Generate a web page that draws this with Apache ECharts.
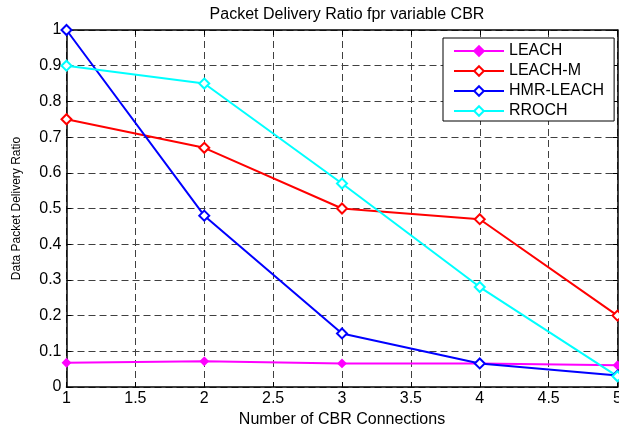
<!DOCTYPE html>
<html><head><meta charset="utf-8">
<script src="https://cdn.jsdelivr.net/npm/echarts@6/dist/echarts.min.js"></script>
<style>html,body{margin:0;padding:0;background:#fff}#c{width:619px;height:427px}</style>
</head><body><div id="c"></div>
<script>
const xValues = [1, 2, 3, 4, 5];
const leach = [0.068, 0.072, 0.066, 0.066, 0.061];
const leachM = [0.75, 0.67, 0.50, 0.47, 0.20];
const hmrLeach = [1.0, 0.48, 0.15, 0.066, 0.032];
const rroch = [0.90, 0.85, 0.57, 0.28, 0.03];
const seriesNames = ['LEACH', 'LEACH-M', 'HMR-LEACH', 'RROCH'];
const titleText = 'Packet Delivery Ratio fpr variable CBR';
const xName = 'Number of CBR Connections';
const yName = 'Data Packet Delivery Ratio';

const FONT = 'Liberation Sans, Arial, sans-serif';
const pair = arr => xValues.map((x, i) => [x, arr[i]]);
const gridLine = {show: true, lineStyle: {color: '#404040', type: [7, 4], width: 1}};
const mk = (name, data, color, symbol, size) => ({
  name, type: 'line', data: pair(data), symbol, symbolSize: size,
  showSymbol: true, clip: false,
  lineStyle: {color, width: 2}, itemStyle: {color, borderColor: color, borderWidth: 2},
  emphasis: {disabled: true}
});
const chart = echarts.init(document.getElementById('c'));
chart.setOption({
  animation: false,
  backgroundColor: '#fff',
  title: {text: titleText, left: 342, textAlign: 'center', top: 2,
    textStyle: {fontFamily: FONT, fontSize: 16, fontWeight: 'normal', color: '#000'}},
  grid: {left: 66.5, right: 1.5, top: 30, bottom: 40, outerBoundsMode: 'none', containLabel: false},
  legend: {
    orient: 'vertical', left: 443, top: 38,
    borderColor: '#000', borderWidth: 1, backgroundColor: '#fff',
    padding: [5, 10, 2, 10], itemGap: 4, itemWidth: 50, itemHeight: 12,
    textStyle: {fontFamily: FONT, fontSize: 16, color: '#000', lineHeight: 16},
    data: seriesNames
  },
  xAxis: [{
    type: 'value', min: 1, max: 5, interval: 0.5, position: 'bottom',
    name: xName, nameLocation: 'middle', nameGap: 20,
    nameTextStyle: {fontFamily: FONT, fontSize: 16, color: '#000'},
    axisLine: {show: true, onZero: false, lineStyle: {color: '#000', width: 1.5}},
    axisTick: {show: true, inside: true, length: 5, lineStyle: {color: '#000'}},
    axisLabel: {fontFamily: FONT, fontSize: 16, color: '#000', margin: 4,
      formatter: v => String(v)},
    splitLine: gridLine
  }, {
    type: 'value', min: 1, max: 5, interval: 0.5, position: 'top',
    axisLine: {show: true, onZero: false, lineStyle: {color: '#000', width: 1.5}},
    axisTick: {show: true, inside: true, length: 5, lineStyle: {color: '#000'}},
    axisLabel: {show: false}, splitLine: {show: false}
  }],
  yAxis: [{
    type: 'value', min: 0, max: 1, interval: 0.1, position: 'left',
    name: yName, nameLocation: 'middle', nameGap: 44,
    nameTextStyle: {fontFamily: FONT, fontSize: 12, color: '#000'},
    axisLine: {show: true, onZero: false, lineStyle: {color: '#000', width: 1.5}},
    axisTick: {show: true, inside: true, length: 5, lineStyle: {color: '#000'}},
    axisLabel: {fontFamily: FONT, fontSize: 16, color: '#000', margin: 5,
      formatter: v => String(+v.toFixed(1))},
    splitLine: gridLine
  }, {
    type: 'value', min: 0, max: 1, interval: 0.1, position: 'right',
    axisLine: {show: true, onZero: false, lineStyle: {color: '#000', width: 1.5}},
    axisTick: {show: true, inside: true, length: 5, lineStyle: {color: '#000'}},
    axisLabel: {show: false}, splitLine: {show: false}
  }],
  series: [
    mk(seriesNames[0], leach, '#ff00ff', 'diamond', 7),
    mk(seriesNames[1], leachM, '#ff0000', 'emptyDiamond', 10),
    mk(seriesNames[2], hmrLeach, '#0000ff', 'emptyDiamond', 10),
    mk(seriesNames[3], rroch, '#00ffff', 'emptyDiamond', 10)
  ]
});
</script></body></html>
